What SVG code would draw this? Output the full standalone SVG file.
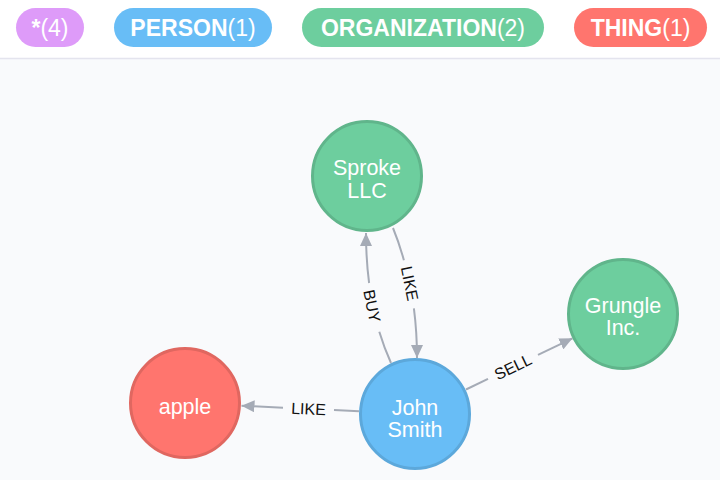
<svg xmlns="http://www.w3.org/2000/svg" width="720" height="480" viewBox="0 0 720 480">
<style>
.pill{font-family:"Liberation Sans",Arial,sans-serif;font-size:23px;fill:#ffffff;text-anchor:middle}
.b{font-weight:bold}
.node circle{stroke-width:3}
.node text{font-family:"Liberation Sans",Arial,sans-serif;font-size:21.5px;fill:#ffffff;text-anchor:middle}
.org circle{fill:#6dce9e;stroke:#60b58b}
.person circle{fill:#68bdf6;stroke:#5ca8db}
.thing circle{fill:#ff756e;stroke:#e06760}
.edge{fill:none;stroke:#a5abb6;stroke-width:2}
.elabel{font-family:"Liberation Sans",Arial,sans-serif;font-size:16px;fill:#111111;text-anchor:middle}
</style>
<defs>
<marker id="arrow" markerUnits="userSpaceOnUse" viewBox="0 0 13 12" refX="13" refY="6" markerWidth="13" markerHeight="12" orient="auto">
<path d="M0,0 L13,6 L0,12 Z" fill="#a5abb6"/>
</marker>
</defs>
<rect x="0" y="0" width="720" height="480" fill="#f9fafc"/>
<rect x="0" y="0" width="720" height="58" fill="#ffffff"/>
<line x1="0" y1="58.5" x2="720" y2="58.5" stroke="#e4e4ee" stroke-width="1.5"/>
<g id="legend">
<rect x="16" y="8" width="68" height="39" rx="19.5" fill="#de9bf9"/>
<text class="pill" x="50" y="36"><tspan class="b">*</tspan>(4)</text>
<rect x="114" y="8" width="158" height="39" rx="19.5" fill="#68bdf6"/>
<text class="pill" x="193" y="36"><tspan class="b">PERSON</tspan>(1)</text>
<rect x="302" y="8" width="242" height="39" rx="19.5" fill="#6dce9e"/>
<text class="pill" x="423" y="36"><tspan class="b">ORGANIZATION</tspan>(2)</text>
<rect x="574" y="8" width="133" height="39" rx="19.5" fill="#ff756e"/>
<text class="pill" x="640.5" y="36"><tspan class="b">THING</tspan>(1)</text>
</g>
<g id="connectors">
<path class="edge" d="M391,363 Q384.25,348.15 379.3,331.8"/>
<path class="edge" d="M369.1,283 Q366,259.25 366,233" marker-end="url(#arrow)"/>
<text class="elabel" x="372" y="306" dy="0.35em" transform="rotate(78.6 372 306)">BUY</text>
<path class="edge" d="M393,228 Q399.4,243.6 403.9,260.3"/>
<path class="edge" d="M413.9,308.4 Q417,332.4 417,358" marker-end="url(#arrow)"/>
<text class="elabel" x="409.7" y="283.5" dy="0.35em" transform="rotate(78.4 409.7 283.5)">LIKE</text>
<path class="edge" d="M466,389.5 L488,378.9"/>
<path class="edge" d="M538,354.9 L572.5,338.3" marker-end="url(#arrow)"/>
<text class="elabel" x="513" y="366.9" dy="0.35em" transform="rotate(-25.7 513 366.9)">SELL</text>
<path class="edge" d="M359,411.3 L334,410.1"/>
<path class="edge" d="M283,407.7 L241.5,405.7" marker-end="url(#arrow)"/>
<text class="elabel" x="308.5" y="408.9" dy="0.35em" transform="rotate(2.7 308.5 408.9)">LIKE</text>
</g>
<g id="node-sproke" class="node org">
<circle cx="367" cy="176" r="54.5"/>
<text x="367" y="175">Sproke</text>
<text x="367" y="198">LLC</text>
</g>
<g id="node-grungle" class="node org">
<circle cx="623" cy="314" r="54.5"/>
<text x="623" y="313">Grungle</text>
<text x="623" y="335">Inc.</text>
</g>
<g id="node-john" class="node person">
<circle cx="415" cy="414" r="54.5"/>
<text x="415" y="415">John</text>
<text x="415" y="437">Smith</text>
</g>
<g id="node-apple" class="node thing">
<circle cx="185" cy="403" r="54.5"/>
<text x="185" y="414">apple</text>
</g>
</svg>
